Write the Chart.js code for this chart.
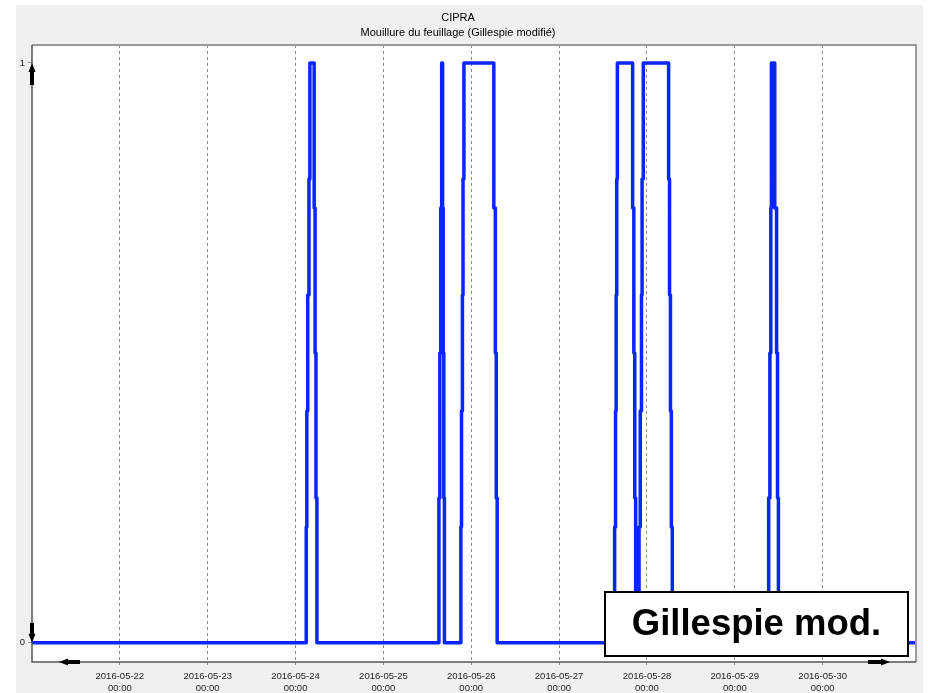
<!DOCTYPE html>
<html>
<head>
<meta charset="utf-8">
<script src="https://cdn.jsdelivr.net/npm/chart.js@4"></script>
<style>
  html, body { margin: 0; padding: 0; background: #fff; }
  #wrap { width: 928px; height: 693px; }
</style>
</head>
<body>
<div id="wrap"><canvas id="myChart" width="928" height="693"></canvas></div>
<script>
// leaf wetness (Gillespie modified), each point = new value from that time on
const times = [
  '2016-05-21 00:00',
  '2016-05-24 02:55', '2016-05-24 03:05', '2016-05-24 03:20', '2016-05-24 03:40', '2016-05-24 03:55',
  '2016-05-24 05:05', '2016-05-24 05:20', '2016-05-24 05:35', '2016-05-24 05:50',
  '2016-05-25 15:10', '2016-05-25 15:25', '2016-05-25 15:40', '2016-05-25 15:55',
  '2016-05-25 16:10', '2016-05-25 16:20', '2016-05-25 16:30', '2016-05-25 16:40',
  '2016-05-25 21:10', '2016-05-25 21:20', '2016-05-25 21:35', '2016-05-25 21:45', '2016-05-25 22:00',
  '2016-05-26 06:10', '2016-05-26 06:35', '2016-05-26 06:50', '2016-05-26 07:05',
  '2016-05-27 15:10', '2016-05-27 15:25', '2016-05-27 15:35', '2016-05-27 15:45', '2016-05-27 15:55',
  '2016-05-27 20:05', '2016-05-27 20:25', '2016-05-27 20:40', '2016-05-27 20:55',
  '2016-05-27 21:50', '2016-05-27 22:10', '2016-05-27 22:30', '2016-05-27 22:40', '2016-05-27 23:00',
  '2016-05-28 05:55', '2016-05-28 06:10', '2016-05-28 06:25', '2016-05-28 06:40', '2016-05-28 06:55',
  '2016-05-29 09:15', '2016-05-29 09:35', '2016-05-29 09:50', '2016-05-29 10:00',
  '2016-05-29 10:55', '2016-05-29 11:25', '2016-05-29 11:40', '2016-05-29 11:55',
  '2016-05-31 01:30'
]
const wetness = [
  0,
  0.2, 0.4, 0.6, 0.8, 1,
  0.75, 0.5, 0.25, 0,
  0.25, 0.5, 0.75, 1,
  0.75, 0.5, 0.25, 0,
  0.2, 0.4, 0.6, 0.8, 1,
  0.75, 0.5, 0.25, 0,
  0.2, 0.4, 0.6, 0.8, 1,
  0.75, 0.5, 0.25, 0,
  0.2, 0.4, 0.6, 0.8, 1,
  0.8, 0.6, 0.4, 0.2, 0,
  0.25, 0.5, 0.75, 1,
  0.75, 0.5, 0.25, 0,
  0
]
const dayTicks = ['2016-05-22', '2016-05-23', '2016-05-24', '2016-05-25', '2016-05-26',
                  '2016-05-27', '2016-05-28', '2016-05-29', '2016-05-30']
const tickTime = '00:00'
const yTicks = [0, 1]
const titleLines = ['CIPRA', 'Mouillure du feuillage (Gillespie modifié)']
const seriesName = 'Gillespie mod.'

function toMs(s){
  const [d, t] = s.split(' ')
  const [Y, M, D] = d.split('-').map(Number)
  const [h, m] = t.split(':').map(Number)
  return Date.UTC(Y, M - 1, D, h, m)
}

const points = times.map((t, i) => ({x: toMs(t), y: wetness[i]}))

function arrow(ctx, x1, y1, x2, y2){
  // shaft + head pointing to (x2,y2)
  const ang = Math.atan2(y2 - y1, x2 - x1)
  const head = 9
  const bx = x2 - Math.cos(ang) * head, by = y2 - Math.sin(ang) * head
  ctx.save()
  ctx.strokeStyle = '#000'
  ctx.fillStyle = '#000'
  ctx.lineWidth = 4
  ctx.beginPath()
  ctx.moveTo(x1, y1)
  ctx.lineTo(bx, by)
  ctx.stroke()
  ctx.beginPath()
  ctx.moveTo(x2, y2)
  ctx.lineTo(bx + Math.sin(ang) * 3.5, by - Math.cos(ang) * 3.5)
  ctx.lineTo(bx - Math.sin(ang) * 3.5, by + Math.cos(ang) * 3.5)
  ctx.closePath()
  ctx.fill()
  ctx.restore()
}

const frame = {
  id: 'frame',
  beforeDraw(chart){
    const ctx = chart.ctx, a = chart.chartArea
    ctx.save()
    ctx.fillStyle = '#fff'
    ctx.fillRect(0, 0, chart.width, chart.height)
    ctx.fillStyle = '#f0f0f0'
    ctx.fillRect(16, 5, chart.width - 21, chart.height - 5)
    ctx.fillStyle = '#fff'
    ctx.fillRect(a.left, a.top, a.right - a.left, a.bottom - a.top)
    ctx.restore()
  },
  afterDraw(chart){
    const ctx = chart.ctx, a = chart.chartArea
    const ys = chart.scales.y
    ctx.save()
    ctx.strokeStyle = '#999'
    ctx.lineWidth = 2
    ctx.beginPath()
    ctx.moveTo(a.left, a.top)
    ctx.lineTo(a.right, a.top)
    ctx.lineTo(a.right, a.bottom)
    ctx.stroke()
    ctx.strokeStyle = '#555'
    ctx.lineWidth = 1.5
    ctx.beginPath()
    ctx.moveTo(a.left, a.top)
    ctx.lineTo(a.left, a.bottom)
    ctx.lineTo(a.right, a.bottom)
    ctx.stroke()
    ctx.restore()

    // axis arrows
    const y1 = ys.getPixelForValue(1), y0 = ys.getPixelForValue(0)
    arrow(ctx, a.left, y1 + 22, a.left, y1)
    arrow(ctx, a.left, y0 - 20, a.left, y0)
    arrow(ctx, a.left + 48, a.bottom, a.left + 27, a.bottom)
    arrow(ctx, a.right - 48, a.bottom, a.right - 26, a.bottom)

    // big series label box
    const w = 303, h = 64
    const bx = a.right - 8 - w, by = a.bottom - 6 - h
    ctx.save()
    ctx.fillStyle = '#fff'
    ctx.fillRect(bx, by, w, h)
    ctx.strokeStyle = '#000'
    ctx.lineWidth = 2
    ctx.strokeRect(bx, by, w, h)
    ctx.fillStyle = '#000'
    ctx.font = 'bold 36.5px "Liberation Sans", Arial, sans-serif'
    ctx.textAlign = 'center'
    ctx.textBaseline = 'middle'
    ctx.fillText(chart.data.datasets[0].label, bx + w / 2, by + h / 2 + 1)
    ctx.restore()
  }
}

const font = {family: '"Liberation Sans", Arial, sans-serif', size: 9.5}

new Chart('myChart', {
  type: 'line',
  data: {
    datasets: [{
      label: seriesName,
      data: points,
      borderColor: '#0a26ff',
      borderWidth: 3.5,
      borderJoinStyle: 'round',
      pointRadius: 0,
      stepped: true,
      fill: false
    }]
  },
  options: {
    responsive: false,
    animation: false,
    layout: {padding: {top: 0, right: 12, bottom: 0, left: 0}},
    plugins: {
      legend: {display: false},
      tooltip: {enabled: false},
      title: {
        display: true,
        text: titleLines,
        color: '#000',
        font: {family: '"Liberation Sans", Arial, sans-serif', size: 11, weight: 'normal', lineHeight: '15px'},
        padding: {top: 10.5, bottom: 4.5}
      }
    },
    scales: {
      x: {
        type: 'linear',
        min: toMs(times[0]),
        max: toMs(times[times.length - 1]),
        afterBuildTicks(scale){
          scale.ticks = dayTicks.map(d => ({value: toMs(d + ' ' + tickTime)}))
        },
        afterFit(scale){ scale.height = 31 },
        grid: {color: '#8a8a8a', lineWidth: 1, tickLength: 5, tickBorderDash: [3, 3]},
        border: {display: false, dash: [3, 3]},
        ticks: {
          autoSkip: false,
          maxRotation: 0,
          padding: 4,
          color: '#222',
          font: font,
          callback: (v, i) => [dayTicks[i], tickTime]
        }
      },
      y: {
        min: -0.033,
        max: 1.031,
        afterBuildTicks(scale){
          scale.ticks = yTicks.map(v => ({value: v}))
        },
        afterFit(scale){ scale.width = 32 },
        grid: {drawOnChartArea: false, tickLength: 4, color: '#999'},
        border: {display: false},
        ticks: {padding: 3, color: '#222', font: font}
      }
    }
  },
  plugins: [frame]
})
</script>
</body>
</html>
